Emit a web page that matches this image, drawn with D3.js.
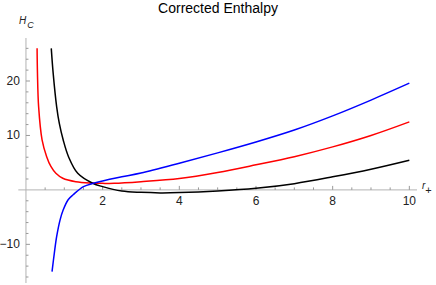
<!DOCTYPE html>
<html>
<head>
<meta charset="utf-8">
<script src="https://cdn.jsdelivr.net/npm/d3@7"></script>
<style>
  body { margin: 0; background: #fff; }
  svg { display: block; font-family: "Liberation Sans", Arial, sans-serif; }
</style>
</head>
<body>
<div id="chart"></div>
<script>
// ============================================================
//  DATA
// ============================================================

const redR = [0.29, 0.30, 0.33, 0.42, 0.54, 0.65, 0.78, 0.96, 1.3, 1.7, 2.0, 2.3, 3, 4, 5, 6, 7, 8, 9, 10];
const redH = [26, 21.4, 15.3, 9.2, 6.1, 4.3, 3.05, 2.14, 1.5, 1.25, 1.2, 1.2, 1.5, 2.1, 3.2, 4.6, 6.1, 7.9, 10.0, 12.5];

const blackR = [0.66, 0.71, 0.80, 0.87, 0.97, 1.11, 1.35, 1.74, 2.0, 2.5, 3, 3.5, 4, 5, 6, 7, 8, 9, 10];
const blackH = [26, 21.4, 15.3, 12.2, 9.2, 6.1, 3.05, 1.22, 0.6, -0.2, -0.45, -0.55, -0.5, -0.2, 0.3, 1.15, 2.4, 3.8, 5.45];

const blueR = [0.68, 0.74, 0.80, 0.89, 0.97, 1.10, 1.23, 1.5, 1.76, 2.0, 2.5, 3, 4, 5, 6, 7, 8, 9, 10];
const blueH = [-15, -11.6, -8.6, -5.5, -3.7, -1.8, -0.9, 0.6, 1.22, 1.65, 2.4, 3.1, 4.9, 6.8, 8.8, 11.0, 13.6, 16.5, 19.6];

const xTicks = [2, 4, 6, 8, 10];
const yTicks = [-10, 10, 20];

// ============================================================
//  CONFIGURATION
// ============================================================

const CONFIG = {
    WIDTH: 436,
    HEIGHT: 285,
    X_DOMAIN: [-0.2, 10.2],
    X_RANGE: [18.3, 417],
    Y_DOMAIN: [-17.1, 27.9],
    Y_RANGE: [283, 38],
    AXIS_COLOR: "#b3b3b3",
    TICK_COLOR: "#999",
    LABEL_COLOR: "#222",
    LINE_WIDTH: 1.5,
};

const series = [
    { r: redR, h: redH, color: "#ff0000" },
    { r: blackR, h: blackH, color: "#000000" },
    { r: blueR, h: blueH, color: "#0000ff" },
];

const svg = d3.select("#chart").append("svg")
    .attr("width", CONFIG.WIDTH)
    .attr("height", CONFIG.HEIGHT);

const x = d3.scaleLinear().domain(CONFIG.X_DOMAIN).range(CONFIG.X_RANGE);
const y = d3.scaleLinear().domain(CONFIG.Y_DOMAIN).range(CONFIG.Y_RANGE);

// --- Minor ticks ---
const xMinor = d3.range(0.5, 10.01, 0.5).filter(v => v % 2 !== 0);
const yMinor = d3.range(-16, 27, 2).filter(v => v % 10 !== 0);

// --- X axis ---
svg.append("line")
    .attr("x1", x(CONFIG.X_DOMAIN[0])).attr("x2", x(CONFIG.X_DOMAIN[1]))
    .attr("y1", y(0)).attr("y2", y(0))
    .attr("stroke", CONFIG.AXIS_COLOR).attr("stroke-width", 1);

svg.selectAll(".xmajor").data(xTicks).join("line")
    .attr("x1", d => x(d)).attr("x2", d => x(d))
    .attr("y1", y(0)).attr("y2", y(0) - 4)
    .attr("stroke", CONFIG.TICK_COLOR);

svg.selectAll(".xminor").data(xMinor).join("line")
    .attr("x1", d => x(d)).attr("x2", d => x(d))
    .attr("y1", y(0)).attr("y2", y(0) - 2.5)
    .attr("stroke", CONFIG.TICK_COLOR);

svg.selectAll(".xlabel").data(xTicks).join("text")
    .attr("x", d => x(d))
    .attr("y", y(0) + 15)
    .attr("text-anchor", "middle")
    .attr("font-size", 12)
    .attr("fill", CONFIG.LABEL_COLOR)
    .text(d => d);

// --- Y axis ---
svg.append("line")
    .attr("x1", x(0)).attr("x2", x(0))
    .attr("y1", y(CONFIG.Y_DOMAIN[0])).attr("y2", y(CONFIG.Y_DOMAIN[1]))
    .attr("stroke", CONFIG.AXIS_COLOR).attr("stroke-width", 1);

svg.selectAll(".ymajor").data(yTicks).join("line")
    .attr("x1", x(0)).attr("x2", x(0) + 4)
    .attr("y1", d => y(d)).attr("y2", d => y(d))
    .attr("stroke", CONFIG.TICK_COLOR);

svg.selectAll(".yminor").data(yMinor).join("line")
    .attr("x1", x(0)).attr("x2", x(0) + 2.5)
    .attr("y1", d => y(d)).attr("y2", d => y(d))
    .attr("stroke", CONFIG.TICK_COLOR);

svg.selectAll(".ylabel").data(yTicks).join("text")
    .attr("x", x(0) - 6)
    .attr("y", d => y(d) + 4)
    .attr("text-anchor", "end")
    .attr("font-size", 12)
    .attr("fill", CONFIG.LABEL_COLOR)
    .text(d => d < 0 ? "\u2212" + Math.abs(d) : d);

// --- Curves ---
// centripetal Catmull-Rom keeps the near-vertical ends smooth
const line = d3.line()
    .x(d => x(d[0]))
    .y(d => y(d[1]))
    .curve(d3.curveCatmullRom.alpha(0.5));

series.forEach(s => {
    svg.append("path")
        .datum(s.r.map((r, i) => [r, s.h[i]]))
        .attr("d", line)
        .attr("fill", "none")
        .attr("stroke", s.color)
        .attr("stroke-width", CONFIG.LINE_WIDTH);
});

// --- Title ---
svg.append("text")
    .attr("x", 218)
    .attr("y", 13)
    .attr("text-anchor", "middle")
    .attr("font-size", 14)
    .attr("fill", "#000")
    .text("Corrected Enthalpy");

// --- Axis labels ---
const yLab = svg.append("text")
    .attr("x", 19)
    .attr("y", 24)
    .attr("font-size", 10)
    .attr("font-style", "italic")
    .attr("fill", CONFIG.LABEL_COLOR);
yLab.append("tspan").text("H");
yLab.append("tspan").attr("dy", 4).attr("dx", 1).attr("font-size", 9).text("C");

const xLab = svg.append("text")
    .attr("x", 422)
    .attr("y", 189)
    .attr("font-size", 10)
    .attr("font-style", "italic")
    .attr("fill", CONFIG.LABEL_COLOR);
xLab.append("tspan").text("r");
xLab.append("tspan").attr("dy", 5).attr("font-style", "normal").attr("font-size", 11).text("+");
</script>
</body>
</html>
